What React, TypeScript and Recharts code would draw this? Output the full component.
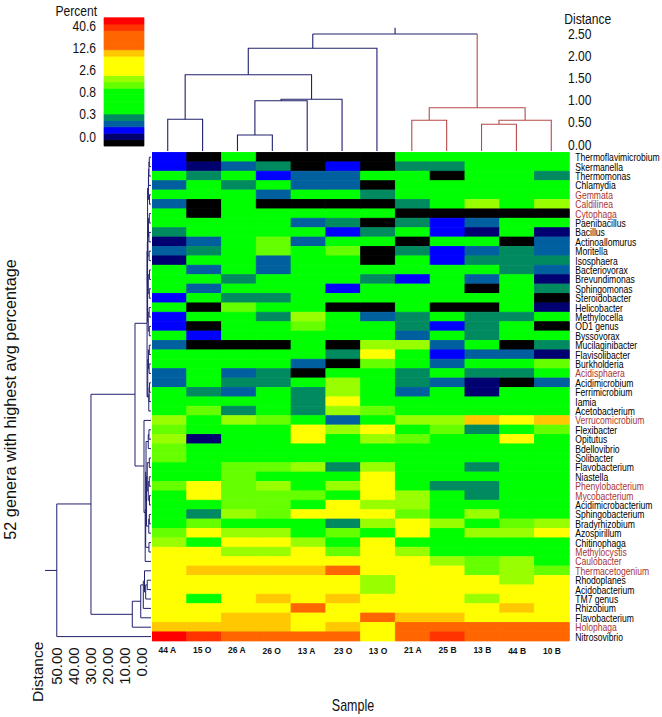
import React from "react";
import { BarChart, Bar, Cell, XAxis, YAxis, ScatterChart, Scatter } from "recharts";

const genera = ["Thermoflavimicrobium","Skermanella","Thermomonas","Chlamydia","Gemmata","Caldilinea","Cytophaga","Paenibacillus","Bacillus","Actinoallomurus","Moritella","Isosphaera","Bacteriovorax","Brevundimonas","Sphingomonas","Steroidobacter","Helicobacter","Methylocella","OD1 genus","Byssovorax","Mucilaginibacter","Flavisolibacter","Burkholderia","Acidisphaera","Acidimicrobium","Ferrimicrobium","Iamia","Acetobacterium","Verrucomicrobium","Flexibacter","Opitutus","Bdellovibrio","Solibacter","Flavobacterium","Niastella","Phenylobacterium","Mycobacterium","Acidimicrobacterium","Sphingobacterium","Bradyrhizobium","Azospirillum","Chitinophaga","Methylocystis","Caulobacter","Thermacetogenium","Rhodoplanes","Acidobacterium","TM7 genus","Rhizobium","Flavobacterium","Holophaga","Nitrosovibrio"];
const highlightedRows = [4,5,6,23,28,35,36,42,43,44,50];
const samples = ["44 A","15 O","26 A","26 O","13 A","23 O","13 O","21 A","25 B","13 B","44 B","10 B"];

// One letter per sample: the percent bin of the cell
const heatBins = [
"BKGKKKKGGGGG","BNTEKBKEEGGG","GEGBTTGGKGGE","TGEGTTKGGGGG","GGGTGGEGGGGG","TKGKKKKEGAGA","GKGGGGGKKKKK","GGGGTEKEBTGG","EGGGGBEGBNGN","NTGLTGGKGGKT","TEGLGLKEBTET","NGGTGGKGBEEE","GTGTGGGGGGET",
"GGEGGGEBGTGN","GTGGGBGGGKGE","BGEEGGGGGGGK","GKLGGKKGKKGN","BGGEAGTEGEEG","BKGGLGGEBEGK","GBGGGGGTGEGG","TKKKGKAATGKE","GGGGGEYGBTTN","GGGGTKLGTGGL","TGTEKGGEGEEG","TGEEGAGETNKT","GETGEAGTGNGG",
"GGGGEYGGGGGG","GLEGEALGGGGG","AGALGTGAAOYO","LGGGYAYGLEGL","ANGGYGALGGYG","LGGGGGGGGGGG","LGGGGGGGGGGG","GGLLAEAGGEGG","GGLGGGYGGGGG","LYLAGAYGEEGG","GYLLLGYAGEGG","GGLLGYAAGGGG","GEALYYYLGAGG",
"GLGGGEAYAGLA","LYAAGLGYGAAY","AGYYAGYGGGGG","YYAAYLYAGGGG","YYYYYYYYALAG","YOOOORYYYLAL","YYYYYYAYYYAY","YYYYYYAYYYYY","YGYOYOYYYAYY","YYYYRYYYYYOY","YYOOYYROOYYY","OOOOYOYRRRRR","XDRRRRYRDRRR",
];
const binColor: Record<string,string> = { K:"#000000", N:"#000070", B:"#0000ff", T:"#005f9f", E:"#008a60", G:"#00ff00", L:"#66ff00", A:"#99ff00", Y:"#ffff00", O:"#ffc800", R:"#ff6600", D:"#ff3300", X:"#ff0000" };

const legendBands = ["K","N","B","T","E","G","G","G","G","L","A","Y","Y","Y","O","R","R","R","D","X"];
const legendTickValues = [1.56,5.03,8.46,11.95,15.3,18.84];
const legendTickLabels = ["0.0","0.3","0.8","2.6","12.6","40.6"];

const sampleDistanceTicks = [0,0.5,1,1.5,2,2.5];
const generaDistanceTicks = [0,10,20,30,40,50];

// [position 1, height 1, position 2, height 2, merge height]
const sampleLinksBlue: number[][] = [
  [0.5,0,1.5,0,0.714],[2.5,0,3.5,0,0.36],[3.0,0.36,4.5,0,1.133],[3.75,1.133,5.5,0,1.164],
  [1.0,0.714,4.625,1.164,1.718],[2.81,1.718,6.5,0,2.313],[4.66,2.313,4.66,2.313,2.635],[4.66,2.635,9.375,2.635,2.635],[7.02,2.635,7.02,2.635,2.777],
];
const sampleLinksRed: number[][] = [
  [7.5,0,8.5,0,0.691],[9.5,0,10.5,0,0.601],[10.0,0.601,11.5,0,0.691],[8.0,0.691,10.75,0.691,0.975],[9.375,0.975,9.375,0.975,2.635],
];
const generaLinks: number[][] = [
  [0.5,0,1.5,0,1.0],[1.0,1.0,2.5,0,1.2],[1.75,1.2,3.5,0,1.4],[4.5,0,5.5,0,0.9],[2.6,1.4,5,0.9,1.5],[6.5,0,7.5,0,1.0],[8.5,0,9.5,0,1.2],[7,1,9,1.2,1.5],[10.5,0,11.5,0,1.1],[8,1.5,11,1.1,1.8],
  [3.8,1.5,17,2.1,2.0],
  [12.5,0,13.5,0,0.9],[14.5,0,15.5,0,1.0],[13,0.9,15,1.0,1.6],[16.5,0,17.5,0,1.1],[18.5,0,19.5,0,1.0],[17,1.1,19,1.0,1.6],[14,1.6,18,1.6,2.1],[9.5,1.8,14,2.1,2.15],
  [20.5,0,21.5,0,1.0],[22.5,0,23.5,0,1.1],[21,1,23,1.1,1.5],[24.5,0,25.5,0,0.9],[25,0.9,26.5,0,1.1],[25.75,1.1,27.5,0,1.3],[22,1.5,26,1.3,1.9],
  [10.5,2.0,26,1.9,2.3],
  [29.5,0,30.5,0,1.2],[30,1.2,31.5,0,1.6],[32.5,0,33.5,0,1.0],[34.5,0,35.5,0,1.0],[36.5,0,37.5,0,0.9],[35,1,37,0.9,1.6],[33,1,36,1.6,2.2],[38.5,0,39.5,0,1.0],[39,1,40.5,0,1.3],[34.5,2.2,39.75,1.3,2.6],[30.75,1.6,37.1,2.6,2.9],[41.5,0,42.5,0,1.2],[34,2.9,42,1.2,3.1],[38,3.1,43.5,0,3.4],[28.5,0,38.3,3.4,4.1],
  [45.5,0,46.5,0,2.2],[46,2.2,47.5,0,3.1],[44.5,0,46.75,3.1,3.8],[45.6,3.8,48.5,0,4.5],[46,4.5,49.5,0,6.0],[47.74,6.0,50.5,0,10.94],
  [18.17,2.3,33.35,4.1,9.36],[25.72,9.36,49.13,10.94,35.1],[37.39,35.1,51.5,0,55.1],
];
const generaRootStub = [[44.46,55.1],[44.46,62]];

const heatRows = genera.map((g, r) => {
  const row: Record<string, string | number> = { key: r, genus: g };
  samples.forEach((_, c) => { row["c" + c] = 1; });
  return row;
});
const legendRow = [Object.fromEntries(legendBands.map((_, i) => ["b" + i, 1]))];

const FONT = "'Liberation Sans', Arial, sans-serif";
const NAVY = "#20206e";
const RED = "#b84a4a";

const uLink = ([a, ah, b, bh, h]: number[], horizontal: boolean) =>
  horizontal
    ? [{ x: a, y: ah }, { x: a, y: h }, { x: b, y: h }, { x: b, y: bh }]
    : [{ x: ah, y: a }, { x: h, y: a }, { x: h, y: b }, { x: bh, y: b }];

const GenusTick = ({ x, y, payload }: any) => (
  <text transform={`translate(${x},${y}) scale(0.74,1)`} fontFamily={FONT} fontSize={11.6} dominantBaseline="central"
    fill={highlightedRows.includes(payload.value) ? "#a83434" : "#000"}>{genera[payload.value]}</text>
);
const SampleTick = ({ x, y, payload, index }: any) => (
  <text x={x - (index < 5 ? 2 : 0)} y={y + 3} dy={index > 2 && index < 7 || index > 9 ? 1 : 0} fontFamily={FONT} fontSize={8.5} fontWeight={700} textAnchor="middle" dominantBaseline="central" fill="#111">
    {samples[Math.round(payload.value - 0.5)]}
  </text>
);
const LegendTick = ({ x, y, payload }: any) => (
  <text transform={`translate(${x + 3},${y}) scale(0.78,1)`} fontFamily={FONT} fontSize={15.5} textAnchor="end" dominantBaseline="central" fill="#111">
    {legendTickLabels[legendTickValues.indexOf(payload.value)]}
  </text>
);
const SampleDistTick = ({ x, y, payload }: any) => (
  <text transform={`translate(${x - 6.7},${y - 7}) scale(0.78,1)`} fontFamily={FONT} fontSize={15.5} dominantBaseline="central" fill="#111">
    {payload.value.toFixed(2)}
  </text>
);
const GeneraDistTick = ({ x, y, payload }: any) => (
  <text transform={`translate(${x - 9.4},${y}) rotate(-90)`} fontFamily={FONT} fontSize={15} textAnchor="end" dominantBaseline="central" fill="#111">
    {payload.value.toFixed(2)}
  </text>
);

const noDot = () => <g />;

export default function App() {
  return (
    <div style={{ position: "absolute", left: 0, top: 0, width: 662, height: 717, overflow: "hidden", background: "#fff" }}>
      <div style={{ position: "absolute", left: 40, top: 17 }}>
        <BarChart width={106} height={130} data={legendRow} barCategoryGap={0} margin={{ top: 0.7, right: 1.7, bottom: 0.9, left: 0 }}>
          <XAxis hide />
          <YAxis type="number" domain={[0, 20]} ticks={legendTickValues} width={64} axisLine={false} tickLine={false} tickMargin={5} interval={0} tick={<LegendTick />} />
          {legendBands.map((b, i) => (
            <Bar key={i} dataKey={"b" + i} stackId="l" fill={binColor[b]} stroke={binColor[b]} strokeWidth={0.7} isAnimationActive={false} />
          ))}
        </BarChart>
      </div>

      <div style={{ position: "absolute", left: 150, top: 10 }}>
        <ScatterChart width={512} height={146} margin={{ top: 7.8, right: 0, bottom: 5, left: 0.3 }}>
          <XAxis type="number" dataKey="x" domain={[0, 12]} hide />
          <YAxis type="number" dataKey="y" domain={[0, 3]} orientation="right" ticks={sampleDistanceTicks} width={93.3} axisLine={false} tickLine={false} tickMargin={0} interval={0} tick={<SampleDistTick />} />
          {sampleLinksBlue.map((l, i) => (
            <Scatter key={"b" + i} data={uLink(l, true)} line={{ stroke: NAVY, strokeWidth: 1.1 }} shape={noDot} isAnimationActive={false} />
          ))}
          {sampleLinksRed.map((l, i) => (
            <Scatter key={"r" + i} data={uLink(l, true)} line={{ stroke: RED, strokeWidth: 1.1 }} shape={noDot} isAnimationActive={false} />
          ))}
        </ScatterChart>
      </div>

      <div style={{ position: "absolute", left: 31, top: 152 }}>
        <ScatterChart width={121} height={540} margin={{ top: 0.5, right: 1, bottom: 0, left: 0.3 }}>
          <XAxis type="number" dataKey="x" domain={[0, 70]} reversed ticks={generaDistanceTicks} height={50.7} axisLine={false} tickLine={false} tickMargin={0} interval={0} tick={<GeneraDistTick />} />
          <YAxis type="number" dataKey="y" domain={[0, 52]} reversed hide />
          {generaLinks.map((l, i) => (
            <Scatter key={i} data={uLink(l, false)} line={{ stroke: NAVY, strokeWidth: 1 }} shape={noDot} isAnimationActive={false} />
          ))}
          <Scatter data={generaRootStub.map(([y, x]) => ({ x, y }))} line={{ stroke: NAVY, strokeWidth: 1 }} shape={noDot} isAnimationActive={false} />
        </ScatterChart>
      </div>

      <div style={{ position: "absolute", left: 152, top: 152 }}>
        <BarChart width={510} height={520} layout="vertical" data={heatRows} barCategoryGap={0} margin={{ top: 0.5, right: 0, bottom: 0, left: 0 }}>
          <XAxis type="number" domain={[0, 12]} ticks={samples.map((_, i) => i + 0.5)} height={30.7} axisLine={false} tickLine={false} tickMargin={0} interval={0} tick={<SampleTick />} />
          <YAxis type="category" dataKey="key" orientation="right" width={92.7} axisLine={false} tickLine={false} tickMargin={0} interval={0} tick={<GenusTick />} />
          {samples.map((_, c) => (
            <Bar key={c} dataKey={"c" + c} stackId="h" isAnimationActive={false}>
              {heatBins.map((row, r) => <Cell key={r} fill={binColor[row[c]]} stroke={binColor[row[c]]} strokeWidth={0.9} />)}
            </Bar>
          ))}
        </BarChart>
      </div>

      <svg width={662} height={717} style={{ position: "absolute", left: 0, top: 0, pointerEvents: "none" }} fontFamily={FONT} fill="#111">
        <text transform="translate(97,10) scale(0.78,1)" fontSize={15.5} textAnchor="end" dominantBaseline="central">Percent</text>
        <text transform="translate(564.3,18.3) scale(0.78,1)" fontSize={15.5} dominantBaseline="central">Distance</text>
        <text transform="translate(37,702) rotate(-90)" fontSize={15.5} dominantBaseline="central">Distance</text>
        <text transform="translate(10,399.5) rotate(-90)" fontSize={16.3} textAnchor="middle" dominantBaseline="central">52 genera with highest avg percentage</text>
        <text transform="translate(353,705) scale(0.78,1)" fontSize={16} textAnchor="middle" dominantBaseline="central">Sample</text>
      </svg>
    </div>
  );
}
